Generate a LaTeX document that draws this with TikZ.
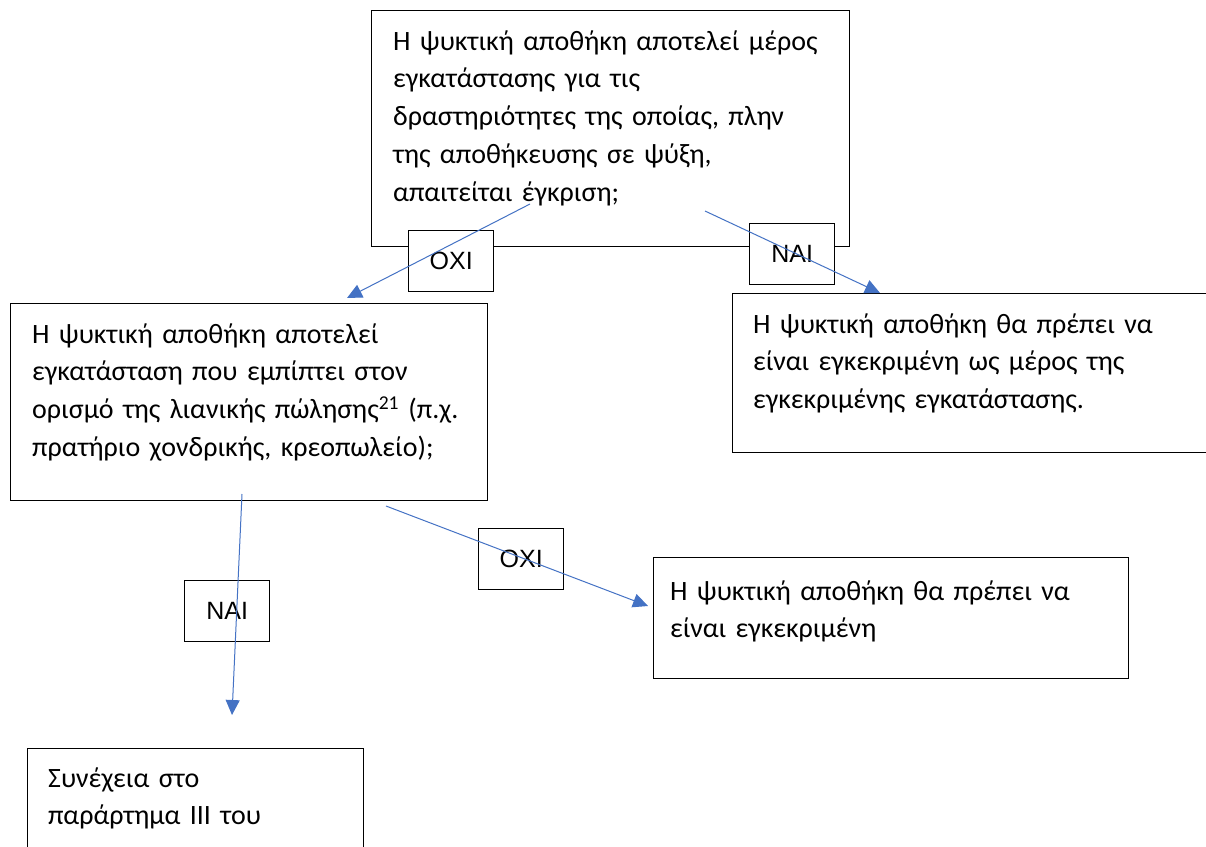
\documentclass[tikz,border=0pt]{standalone}
\usepackage{fontspec}
\setmainfont{Carlito}
\newfontfamily\tagfont{Liberation Sans}
\usetikzlibrary{arrows.meta}
\definecolor{linkblue}{HTML}{4472C4}

\begin{document}
\begin{tikzpicture}[x=1pt,y=-1pt,>={Triangle[length=15pt,width=14pt]},
  box/.style={draw,line width=1.4pt,fill=white,anchor=north west,inner sep=0},
  txt/.style={anchor=base west,align=left,text width=470pt,inner sep=0,font=\fontsize{28}{37.8}\selectfont},
  tag/.style={box,minimum width=85pt,minimum height=61pt,font=\tagfont\fontsize{25}{30}\selectfont},
  link/.style={->,draw=linkblue,line width=1pt}]
  \useasboundingbox (0,0) rectangle (1206,846);
  \clip (0,0) rectangle (1206,846);
  % question boxes
  \node[box,minimum width=478pt,minimum height=236pt] (qtop) at (371,10) {};
  \node[box,minimum width=477pt,minimum height=197pt] (qsale) at (10,303) {};
  % answer boxes
  \node[box,minimum width=600pt,minimum height=159pt] (yesapp) at (732,293) {};
  \node[box,minimum width=475pt,minimum height=121pt] (noapp) at (653,557) {};
  \node[box,minimum width=336pt,minimum height=200pt] (annex) at (27,748) {};
  % texts
  \node[txt] (qtoptxt) at (393,50) {Η ψυκτική αποθήκη αποτελεί μέρος\\εγκατάστασης για τις\\δραστηριότητες της οποίας, πλην\\της αποθήκευσης σε ψύξη,\\απαιτείται έγκριση;};
  \node[txt] (qsaletxt) at (32,343) {Η ψυκτική αποθήκη αποτελεί\\εγκατάσταση που εμπίπτει στον\\ορισμό της λιανικής πώλησης\textsuperscript{21} (π.χ.\\πρατήριο χονδρικής, κρεοπωλείο);};
  \node[txt] (yesapptxt) at (753,333) {Η ψυκτική αποθήκη θα πρέπει να\\είναι εγκεκριμένη ως μέρος της\\εγκεκριμένης εγκατάστασης.};
  \node[txt] (noapptxt) at (670,600) {Η ψυκτική αποθήκη θα πρέπει να\\είναι εγκεκριμένη};
  \node[txt] (annextxt) at (48,787) {Συνέχεια στο\\παράρτημα III του};
  % answer tags
  \foreach \name/\x/\y/\lab in {oxitop/408/230/ΟΧΙ,naitop/749/223/ΝΑΙ,oxisale/478/528/ΟΧΙ,naisale/184/580/ΝΑΙ}
    \node[tag] (\name) at (\x,\y) {\lab};
  % arrow ends
  \coordinate (s1) at (530,204);
  \coordinate (e1) at (347,298);
  \coordinate (s2) at (705,211);
  \coordinate (e2) at (880,293);
  \coordinate (s3) at (242,494);
  \coordinate (e3) at (232,715);
  \coordinate (s4) at (386,506);
  \coordinate (e4) at (648,606);
  \draw[link] (s1) -- (e1);
  \draw[link] (s2) -- (e2);
  \draw[link] (s3) -- (e3);
  \draw[link] (s4) -- (e4);
\end{tikzpicture}
\end{document}
